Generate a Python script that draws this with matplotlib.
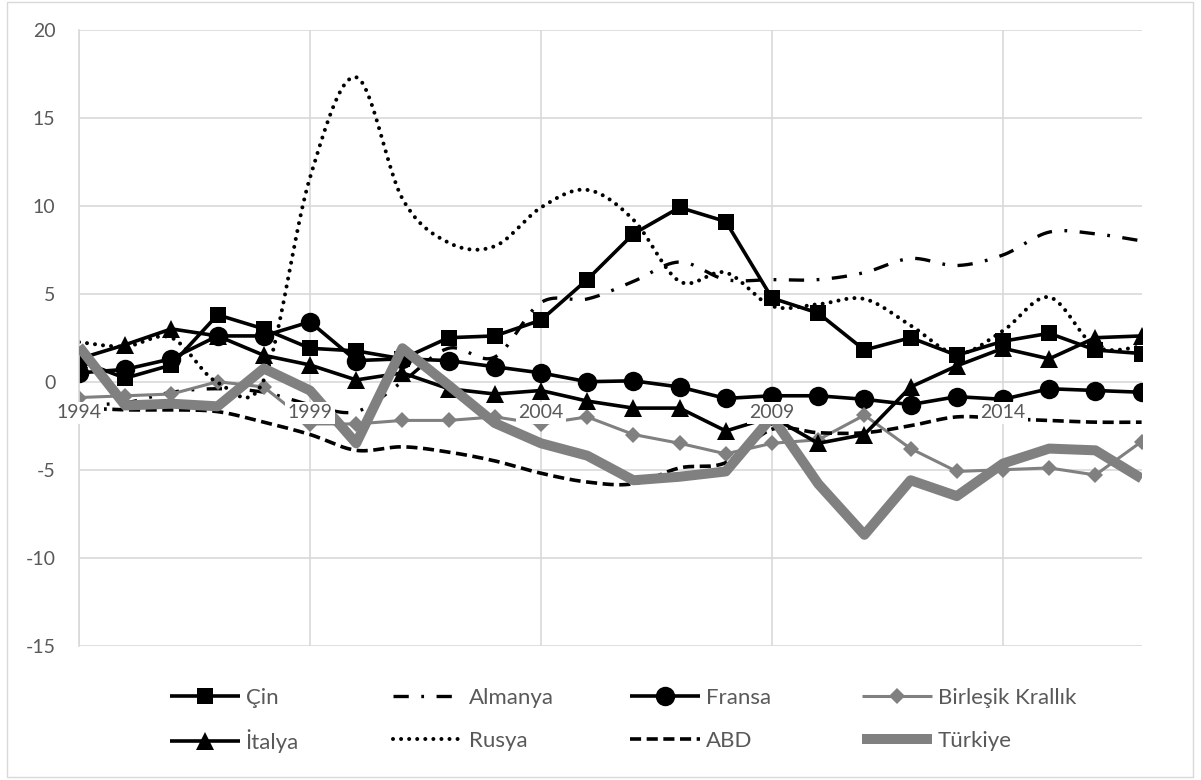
import numpy as np
import matplotlib
matplotlib.use("Agg")
import matplotlib.pyplot as plt
from matplotlib.lines import Line2D
from matplotlib.patches import Rectangle

plt.rcParams["font.family"] = ["Lato", "DejaVu Sans"]
plt.rcParams["lines.scale_dashes"] = False
plt.rcParams["axes.unicode_minus"] = False

years = list(range(1994, 2018))
tick_years = [1994, 1999, 2004, 2009, 2014]
y_ticks = [-15, -10, -5, 0, 5, 10, 15, 20]

cin = [1.2, 0.2, 0.95, 3.8, 3.0, 1.9, 1.75, 1.3, 2.5, 2.6, 3.5, 5.8,
       8.4, 9.9, 9.1, 4.75, 3.9, 1.8, 2.5, 1.5, 2.3, 2.75, 1.8, 1.6]
almanya = [-1.3, -1.2, -0.6, -0.4, -0.6, -1.3, -1.7, 0.0, 1.9, 1.4, 4.5, 4.7,
           5.7, 6.8, 5.8, 5.8, 5.8, 6.2, 7.0, 6.6, 7.2, 8.5, 8.4, 8.0]
fransa = [0.5, 0.7, 1.3, 2.6, 2.6, 3.4, 1.2, 1.3, 1.2, 0.85, 0.5, 0.0,
          0.05, -0.3, -0.95, -0.8, -0.8, -1.0, -1.3, -0.85, -1.0, -0.4, -0.5, -0.6]
birlesik = [-0.9, -0.8, -0.7, 0.0, -0.3, -2.4, -2.4, -2.2, -2.2, -2.0, -2.4, -2.0,
            -3.0, -3.5, -4.1, -3.5, -3.3, -1.9, -3.8, -5.1, -5.0, -4.9, -5.3, -3.4]
italya = [1.3, 2.1, 3.0, 2.6, 1.5, 0.95, 0.1, 0.5, -0.4, -0.7, -0.5, -1.1,
          -1.5, -1.5, -2.8, -2.0, -3.5, -3.0, -0.3, 0.9, 1.9, 1.3, 2.5, 2.6]
rusya = [2.25, 2.0, 2.5, -0.05, 0.1, 11.6, 17.3, 10.4, 7.9, 7.7, 9.9, 10.9,
         9.2, 5.7, 6.2, 4.3, 4.4, 4.7, 3.2, 1.6, 2.9, 4.8, 2.0, 2.0]
abd = [-1.5, -1.6, -1.6, -1.7, -2.3, -3.0, -3.9, -3.7, -4.0, -4.5, -5.2, -5.7,
       -5.8, -4.9, -4.6, -2.7, -2.9, -2.9, -2.5, -2.0, -2.1, -2.2, -2.3, -2.3]
turkiye = [2.0, -1.35, -1.25, -1.4, 0.75, -0.5, -3.5, 1.9, -0.2, -2.35, -3.5, -4.2,
           -5.6, -5.4, -5.1, -2.0, -5.8, -8.7, -5.6, -6.5, -4.65, -3.8, -3.9, -5.5]

BLACK = "#000000"
GRAY = "#808080"
GRID = "#d9d9d9"
TEXT = "#595959"


def smooth(xs, ys, n=30):
    """Bezier curve through every point (Catmull-Rom style control points)."""
    x = np.asarray(xs, float)
    y = np.asarray(ys, float)
    m = len(x)
    out_x, out_y = [], []
    for i in range(m - 1):
        i0 = max(i - 1, 0)
        i3 = min(i + 2, m - 1)
        c1x = x[i] + (x[i + 1] - x[i0]) / 6
        c1y = y[i] + (y[i + 1] - y[i0]) / 6
        c2x = x[i + 1] - (x[i3] - x[i]) / 6
        c2y = y[i + 1] - (y[i3] - y[i]) / 6
        t = np.linspace(0, 1, n, endpoint=(i == m - 2))
        a, b, c, d = (1 - t) ** 3, 3 * (1 - t) ** 2 * t, 3 * (1 - t) * t ** 2, t ** 3
        out_x.append(a * x[i] + b * c1x + c * c2x + d * x[i + 1])
        out_y.append(a * y[i] + b * c1y + c * c2y + d * y[i + 1])
    return np.concatenate(out_x), np.concatenate(out_y)


W, H = 1201, 780
fig = plt.figure(figsize=(W / 100, H / 100), dpi=100)
ax = fig.add_axes([79 / W, 1 - 645.7 / H, 1062.6 / W, (645.7 - 29.7) / H])

ax.set_xlim(1994, 2017)
ax.set_ylim(-15, 20)
ax.set_yticks(y_ticks)
ax.set_xticks(tick_years)
ax.tick_params(axis="x", length=0, labelbottom=False)
ax.tick_params(axis="y", length=0, pad=17, labelcolor=TEXT, labelsize=14)
ax.grid(True, color=GRID, linewidth=1.2, zorder=0)
ax.set_axisbelow(True)
for side in ["top", "right", "bottom"]:
    ax.spines[side].set_visible(False)
ax.spines["left"].set_color(GRID)
ax.spines["left"].set_linewidth(1.2)

styles = {
    "Çin": dict(color=BLACK, lw=2.6, marker="s", ms=12.2, mew=0),
    "Almanya": dict(color=BLACK, lw=2.4, ls=(0, (11, 9, 2, 9))),
    "Fransa": dict(color=BLACK, lw=2.6, marker="o", ms=14, mew=0),
    "Birleşik Krallık": dict(color=GRAY, lw=2.2, marker="D", ms=8.5, mew=0),
    "İtalya": dict(color=BLACK, lw=2.6, marker="^", ms=13.5, mew=0),
    "Rusya": dict(color=BLACK, lw=2.9, ls=(0, (0.01, 5.8)), dash_capstyle="round"),
    "ABD": dict(color=BLACK, lw=2.6, ls=(0, (8, 4))),
    "Türkiye": dict(color=GRAY, lw=7.2),
}
series = [
    ("Çin", cin, False),
    ("Almanya", almanya, True),
    ("Fransa", fransa, False),
    ("Birleşik Krallık", birlesik, False),
    ("İtalya", italya, False),
    ("Rusya", rusya, True),
    ("ABD", abd, True),
    ("Türkiye", turkiye, False),
]

handles = {}
for k, (name, vals, is_smooth) in enumerate(series):
    st = dict(styles[name])
    common = dict(solid_joinstyle="round", solid_capstyle="butt", zorder=2 + k * 0.1)
    if is_smooth:
        sx, sy = smooth(years, vals)
        ax.plot(sx, sy, **st, **common)
    else:
        ax.plot(years, vals, **st, **common)
    handles[name] = Line2D([], [], **st, solid_joinstyle="round", solid_capstyle="butt")

# year labels sit just under the zero line on a white box
for yr in tick_years:
    ax.annotate(str(yr), xy=(yr, 0), xytext=(0, -22.5), textcoords="offset points",
                ha="center", va="center", fontsize=14, color=TEXT,
                bbox=dict(boxstyle="square,pad=0.12", fc="white", ec="none"),
                zorder=10)

# legend: two rows of four entries
legend_layout = [
    ("Çin", 170, 698), ("Almanya", 393, 698), ("Fransa", 630, 698), ("Birleşik Krallık", 862, 698),
    ("İtalya", 170, 741), ("Rusya", 393, 741), ("ABD", 630, 741), ("Türkiye", 862, 741),
]
fs = 16
for name, px, py in legend_layout:
    fig.legend([handles[name]], [name], loc="center left",
               bbox_to_anchor=(px / W, 1 - py / H), bbox_transform=fig.transFigure,
               frameon=False, borderpad=0, borderaxespad=0, handlelength=70 / (fs * 100 / 72),
               handletextpad=0.25, fontsize=fs, labelcolor=TEXT, numpoints=1)

fig.patches.append(Rectangle((7 / W, 1 - 777 / H), 1186 / W, 775 / H, transform=fig.transFigure,
                             fill=False, ec=GRID, lw=1.0))

fig.savefig("out.png", dpi=100, facecolor="white")
